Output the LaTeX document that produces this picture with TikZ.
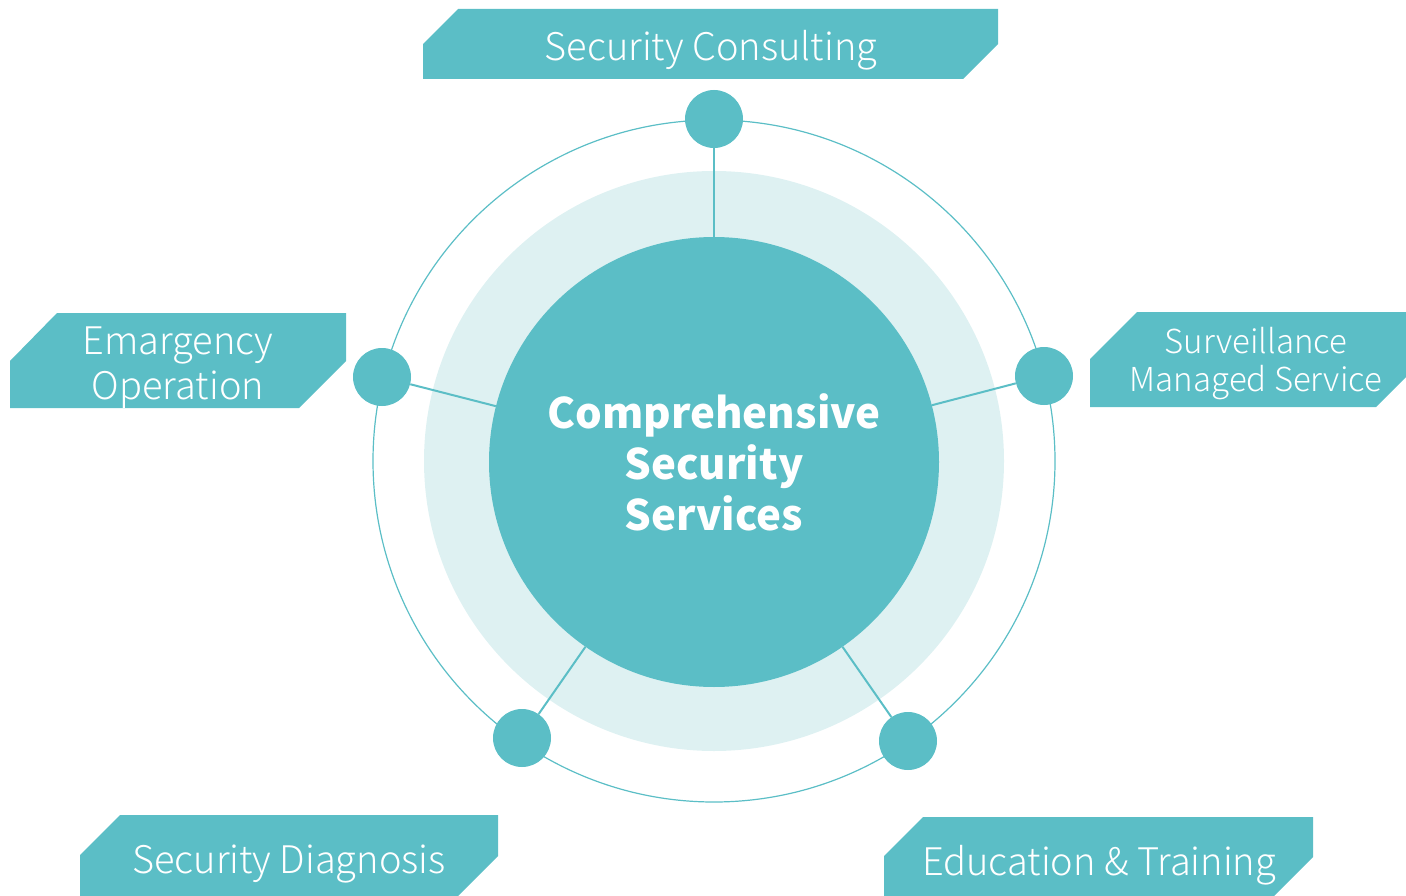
\documentclass[tikz,border=0pt]{standalone}
\usepackage{fontspec}
\setmainfont{Noto Sans CJK JP}
\newfontfamily\lightfont{Noto Sans CJK JP Light}
\usepackage{tikz}
\usepackage{xcolor}
\definecolor{teal1}{HTML}{5BBEC6}
\definecolor{teal2}{HTML}{DEF1F2}

\begin{document}
\begin{tikzpicture}[x=1pt,y=-1pt,
    dot/.style={circle, fill=teal1, minimum size=58pt, inner sep=0pt},
    conn/.style={draw=teal1, line width=2pt},
    bannertext/.style={text=white, align=center, font=\lightfont\fontsize{38}{45}\selectfont}]
          % Variables
          \def \cx  {714}
          \def \cy  {461}
          \def \rin {225}
          \def \rlt {290}
          \def \rout{341}

          \clip (0,0) rectangle (1406,896);
          \useasboundingbox (0,0) rectangle (1406,896);

          % Circles
          \fill[teal2] (\cx,\cy) circle (\rlt);
          \draw[teal1, line width=1.2pt] (\cx,\cy) circle (\rout);
          \node[circle, fill=teal1, minimum size=450pt, inner sep=0pt, text=white, align=center,
                font=\bfseries\fontsize{42}{51}\selectfont] (main) at (\cx,\cy+1) {Comprehensive\\Security\\Services};

          % Small circles
          \node[dot] (consult) at (714,119) {};
          \node[dot] (surv)    at (1044,376) {};
          \node[dot] (edu)     at (908,741) {};
          \node[dot] (diag)    at (522,738) {};
          \node[dot] (emerg)   at (382,377) {};

          % Connectors
          \draw[conn] (consult) -- (main);
          \draw[conn] (surv) -- (main);
          \draw[conn] (edu) -- (main);
          \draw[conn] (diag) -- (main);
          \draw[conn] (emerg) -- (main);

          % Banners
          \fill[teal1] (423,44) -- (458,9) -- (998,9) -- (998,44) -- (963,79) -- (423,79) -- cycle;
          \fill[teal1] (10,361) -- (57,313) -- (346,313) -- (346,361) -- (299,408) -- (10,408) -- cycle;
          \fill[teal1] (1090,359) -- (1137,312) -- (1423,312) -- (1423,360) -- (1376,407) -- (1090,407) -- cycle;
          \fill[teal1] (80,855) -- (120,815) -- (498,815) -- (498,856) -- (458,896) -- (80,896) -- cycle;
          \fill[teal1] (884,856) -- (923,817) -- (1313,817) -- (1313,857) -- (1274,896) -- (884,896) -- cycle;

          % Banner labels
          \node[bannertext] (tconsult) at (711,50) {Security Consulting};
          \node[bannertext] (temerg) at (178,368) {Emargency\\Operation};
          \node[bannertext, font=\lightfont\fontsize{33}{38}\selectfont] (tsurv) at (1256,364) {Surveillance\\Managed Service};
          \node[bannertext] (tdiag) at (289,864) {Security Diagnosis};
          \node[bannertext] (tedu) at (1099,865) {Education \& Training};

        \end{tikzpicture}
\end{document}
